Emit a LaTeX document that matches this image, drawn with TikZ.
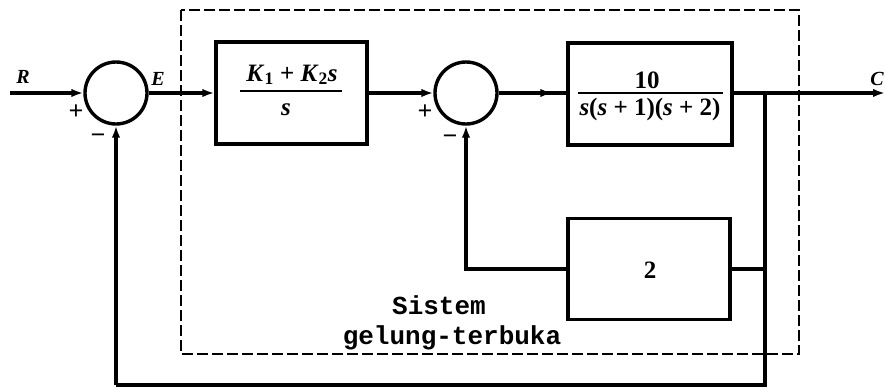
\documentclass[tikz,border=0pt]{standalone}
\usepackage{fontspec}
\setmainfont{Liberation Serif}
\newfontfamily\twfont{Liberation Mono}
\usetikzlibrary{arrows.meta}
\begin{document}
\begin{tikzpicture}[x=1pt,y=-1pt,
  ln/.style={line width=3.2pt},
  arr/.style={line width=3.2pt,-{Latex[length=12pt,width=8.5pt]}},
  sumj/.style={circle,draw,line width=3.4pt,minimum size=62pt,inner sep=0pt},
  blk/.style={draw,line width=3.4pt,inner sep=0pt},
  lbl/.style={anchor=base,inner sep=0pt,font=\fontsize{20}{20}\selectfont\bfseries\itshape},
  frac/.style={anchor=base,inner sep=0pt,font=\fontsize{25}{25}\selectfont\bfseries},
  sgn/.style={inner sep=0pt,font=\fontsize{26}{26}\selectfont\bfseries},
  mono/.style={anchor=base,inner sep=0pt,font=\fontsize{26}{26}\selectfont\twfont\bfseries},
  fline/.style={line width=2pt},
]
\useasboundingbox (0,0) rectangle (885,389);
% open-loop dashed frame
\draw[line width=2.4pt,dash pattern=on 11pt off 4pt] (181,10) rectangle (799,354);
% blocks
\node[sumj] (s1) at (116,93) {};
\node[sumj] (s2) at (466,93) {};
\node[blk,minimum width=151pt,minimum height=102pt] (b1) at (291.5,93) {};
\node[blk,minimum width=164pt,minimum height=102pt] (b3) at (650,94) {};
\node[blk,minimum width=162pt,minimum height=101pt] (b2) at (649,269) {};
% block contents
\node[frac] (n1) at (292,81) {\textit{K}\textsubscript{1} + \textit{K}\textsubscript{2}\textit{s}};
\draw[fline] (240,91) -- (342,91);
\node[frac] (d1) at (286,115) {\textit{s}};
\node[frac] (n3) at (647,88) {10};
\draw[fline] (578,93) -- (723,93);
\node[frac] (d3) at (650,115) {\textit{s}(\textit{s} + 1)(\textit{s} + 2)};
\node[frac] (g2) at (650,278) {2};
% labels
\node[lbl] (lR) at (23,83) {R};
\node[lbl] (lE) at (158,85) {E};
\node[lbl] (lC) at (877,85) {C};
\node[sgn] (p1) at (76,112) {+};
\node[sgn] (m1) at (98,139) {−};
\node[sgn] (p2) at (425,112) {+};
\node[sgn] (m2) at (450,140) {−};
\node[mono] (t1) at (439,314) {Sistem};
\node[mono] (t2) at (452,344) {gelung-terbuka};
% coordinates
\coordinate (in) at (10,93);
\coordinate (br) at (765,93);
\coordinate (out) at (885,93);
\coordinate (fb) at (765,385);
\coordinate (a3) at ([xshift=-14pt]b3.west |- s2.east);
% connectors
\draw[arr] (in) -- (s1.west);
\draw[arr] (s1.east) -- (b1.west);
\draw[arr] (b1.east) -- (s2.west);
\draw[ln] (s2.east) -- (b3.west |- s2.east);
\draw[arr] (s2.east) -- (a3);
\draw[arr] (b3.east |- br) -- (out);
\draw[ln] (br) -- (fb) -- (s1 |- fb);
\draw[arr] (s1 |- fb) -- (s1.south);
\draw[ln] (b2.east) -- (b2.east -| br);
\draw[arr] (b2.west) -| (s2.south);
\end{tikzpicture}
\end{document}
